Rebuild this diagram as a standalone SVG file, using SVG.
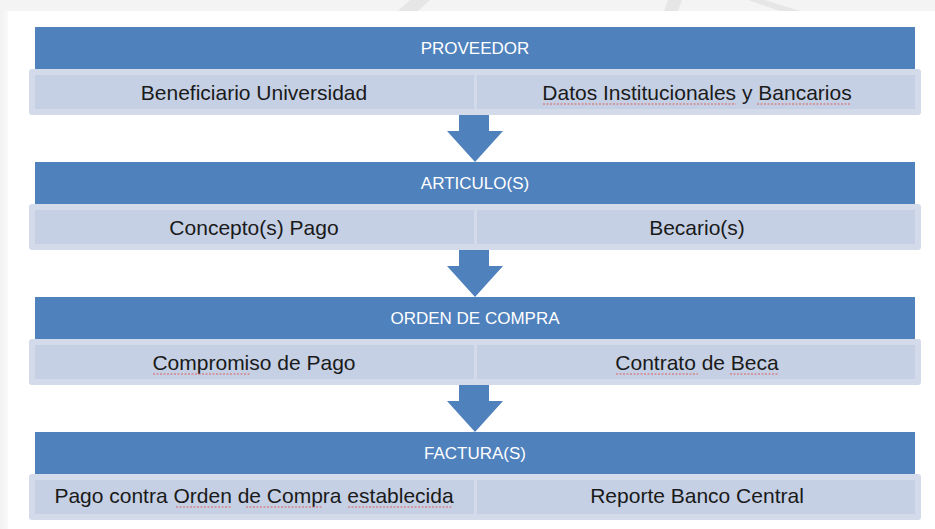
<svg xmlns="http://www.w3.org/2000/svg" width="935" height="529" viewBox="0 0 935 529">
<defs>
<style>
.hdr{fill:#4f81bd;}
.hdrt{fill:#ffffff;font-family:"Liberation Sans",Arial,sans-serif;font-size:17px;text-anchor:middle;}
.rowo{fill:#d3dbea;}
.rowi{fill:#c5d0e5;}
.rowt{fill:#1a1a1a;font-family:"Liberation Sans",Arial,sans-serif;font-size:21px;text-anchor:middle;}
.arr{fill:#4f81bd;}
.sp{fill:none;stroke:#e06060;stroke-width:1.2;stroke-dasharray:2 1.5;}
.wm{fill:#e6e6e6;}
</style>
<linearGradient id="lsh" x1="0" y1="0" x2="1" y2="0">
<stop offset="0" stop-color="#f2f2f2"/>
<stop offset="1" stop-color="#f9f9f9"/>
</linearGradient>
<path id="arrow" d="M459,115 H489 V131 H503 L475,162 L447,131 H459 Z"/>
</defs>
<rect x="0" y="0" width="935" height="529" fill="#f4f4f4"/>
<rect x="0" y="11" width="8" height="518" fill="url(#lsh)"/>
<path class="wm" d="M398,11 L410,0 L430,0 L418,11 Z"/>
<path class="wm" d="M664,11 L668,0 L682,0 L678,11 Z"/>
<path class="wm" d="M748,0 L765,0 L800,11 L780,11 Z"/>
<rect x="8" y="11" width="927" height="518" fill="#ffffff"/>

<g id="connectors">
<use href="#arrow" class="arr"/>
<use href="#arrow" class="arr" transform="translate(0,135)"/>
<use href="#arrow" class="arr" transform="translate(0,270)"/>
</g>

<g id="proveedor">
<rect class="hdr" x="35" y="27" width="880" height="42"/>
<text class="hdrt" x="475" y="54">PROVEEDOR</text>
<rect class="rowo" x="29" y="69" width="892" height="46" rx="3"/>
<rect class="rowi" x="35" y="75" width="439" height="34"/>
<rect class="rowi" x="477" y="75" width="438" height="34"/>
<text class="rowt" x="254" y="100">Beneficiario Universidad</text>
<text class="rowt" x="697" y="100">Datos Institucionales y Bancarios</text>
</g>

<g id="articulos">
<rect class="hdr" x="35" y="162" width="880" height="42"/>
<text class="hdrt" x="475" y="189">ARTICULO(S)</text>
<rect class="rowo" x="29" y="204" width="892" height="46" rx="3"/>
<rect class="rowi" x="35" y="210" width="439" height="34"/>
<rect class="rowi" x="477" y="210" width="438" height="34"/>
<text class="rowt" x="254" y="235">Concepto(s) Pago</text>
<text class="rowt" x="697" y="235">Becario(s)</text>
</g>

<g id="orden-compra">
<rect class="hdr" x="35" y="297" width="880" height="42"/>
<text class="hdrt" x="475" y="324">ORDEN DE COMPRA</text>
<rect class="rowo" x="29" y="339" width="892" height="46" rx="3"/>
<rect class="rowi" x="35" y="345" width="439" height="34"/>
<rect class="rowi" x="477" y="345" width="438" height="34"/>
<text class="rowt" x="254" y="370">Compromiso de Pago</text>
<text class="rowt" x="697" y="370">Contrato de Beca</text>
</g>

<g id="facturas">
<rect class="hdr" x="35" y="432" width="880" height="42"/>
<text class="hdrt" x="475" y="459">FACTURA(S)</text>
<rect class="rowo" x="29" y="474" width="892" height="46" rx="3"/>
<rect class="rowi" x="35" y="480" width="439" height="34"/>
<rect class="rowi" x="477" y="480" width="438" height="34"/>
<text class="rowt" x="254" y="503">Pago contra Orden de Compra establecida</text>
<text class="rowt" x="697" y="503">Reporte Banco Central</text>
</g>

<g id="spellcheck">
<path class="sp" d="M543,104 H736"/>
<path class="sp" d="M757,104 H851"/>
<path class="sp" d="M153,374 H251"/>
<path class="sp" d="M616,374 H698"/>
<path class="sp" d="M730,374 H779"/>
<path class="sp" d="M176,507 H232"/>
<path class="sp" d="M246,507 H323"/>
<path class="sp" d="M348,507 H453"/>
</g>
</svg>
